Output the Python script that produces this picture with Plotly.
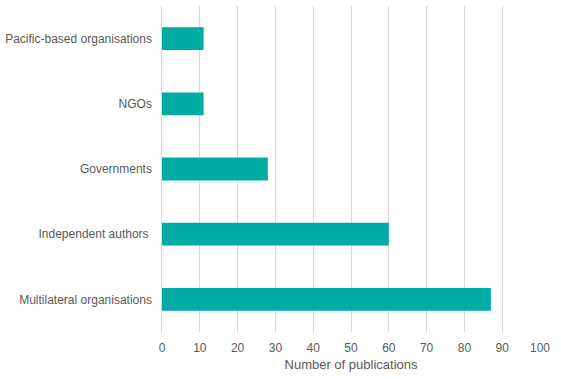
import plotly.graph_objects as go

categories = ["Pacific-based organisations", "NGOs", "Governments",
              "Independent authors ", "Multilateral organisations"]
values = [11, 11, 28, 60, 87]
x_ticks = list(range(0, 101, 10))

fig = go.Figure(go.Bar(
    y=categories, x=values, orientation="h",
    marker=dict(color="#00ABA6", line=dict(width=0)),
    width=0.35,
))

font = dict(family="Liberation Sans, Arial, sans-serif", size=12, color="#595959")
title_font = dict(family="Liberation Sans, Arial, sans-serif", size=13, color="#595959")
fig.update_layout(
    width=561, height=379,
    margin=dict(l=162, r=21, t=6, b=47, autoexpand=False),
    plot_bgcolor="white", paper_bgcolor="white",
    font=font,
    showlegend=False,
    bargap=0.65,
)
fig.update_xaxes(
    range=[0, 100], tickvals=x_ticks, showgrid=True, gridcolor="#d9d9d9",
    gridwidth=1, zeroline=False, showline=False, automargin=False,
    title=dict(text="Number of publications", standoff=5, font=title_font),
    ticks="", tickfont=font, ticklabelstandoff=7,
)
fig.update_yaxes(
    autorange="reversed", showgrid=False, showline=True, linecolor="#d9d9d9",
    linewidth=1, ticks="", ticksuffix="  ", tickfont=font, automargin=False,
)
fig.write_html(
    "out.html",
    config={"displayModeBar": False},
    post_script="document.body.style.margin='0';document.body.style.overflow='hidden';",
)
